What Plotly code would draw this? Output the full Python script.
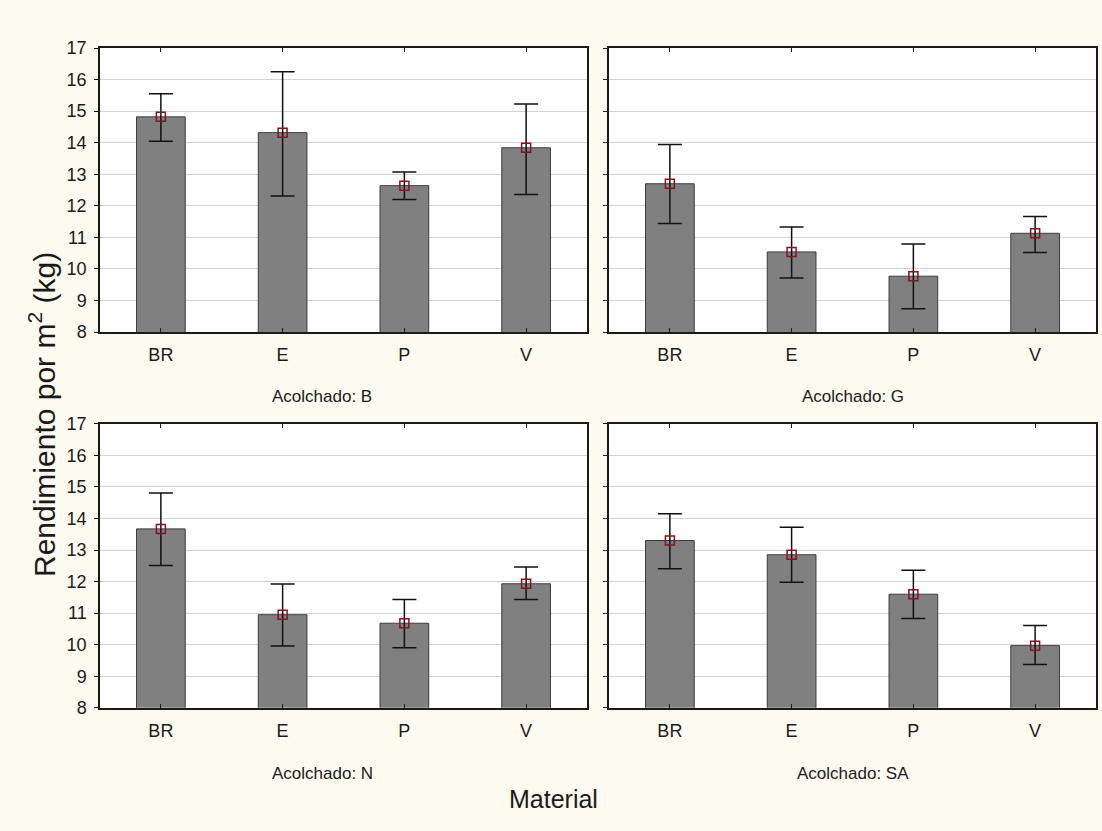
import plotly.graph_objects as go

W, H = 1102, 831

categories = ["BR", "E", "P", "V"]
panel_names = ["Acolchado: B", "Acolchado: G", "Acolchado: N", "Acolchado: SA"]

# means (bar heights / markers)
mean_B = [14.82, 14.32, 12.64, 13.84]
mean_G = [12.70, 10.54, 9.77, 11.13]
mean_N = [13.67, 10.95, 10.68, 11.93]
mean_SA = [13.30, 12.85, 11.60, 9.97]

# upper / lower confidence limits
upper_B = [15.55, 16.25, 13.07, 15.23]
lower_B = [14.05, 12.31, 12.20, 12.36]
upper_G = [13.94, 11.33, 10.79, 11.66]
lower_G = [11.44, 9.71, 8.74, 10.52]
upper_N = [14.81, 11.92, 11.43, 12.46]
lower_N = [12.51, 9.96, 9.90, 11.43]
upper_SA = [14.15, 13.72, 12.36, 10.61]
lower_SA = [12.41, 11.98, 10.83, 9.37]

y_ticks = [8, 9, 10, 11, 12, 13, 14, 15, 16, 17]

means = [mean_B, mean_G, mean_N, mean_SA]
uppers = [upper_B, upper_G, upper_N, upper_SA]
lowers = [lower_B, lower_G, lower_N, lower_SA]

BG = "#FDFAF0"
FONT = "Liberation Sans, Arial, sans-serif"
TXT = "#1a1a1a"

# panel pixel boxes (left, right, top, bottom)
boxes = [(100, 587, 39, 330), (609, 1096, 39, 330),
         (100, 587, 424, 715), (609, 1096, 424, 715)]

fig = go.Figure()
layout = dict(
    width=W, height=H,
    paper_bgcolor=BG, plot_bgcolor="white",
    margin=dict(l=0, r=0, t=0, b=0),
    showlegend=False,
    font=dict(family=FONT, size=18, color=TXT),
)

for i in range(4):
    xa = "x" if i == 0 else f"x{i+1}"
    ya = "y" if i == 0 else f"y{i+1}"
    m = means[i]
    up = [u - v for u, v in zip(uppers[i], m)]
    dn = [v - l for v, l in zip(m, lowers[i])]
    fig.add_trace(go.Bar(
        x=categories, y=m, xaxis=xa, yaxis=ya,
        marker=dict(color="#808080", line=dict(color="#3c3c3c", width=1)),
        width=0.4,
        error_y=dict(type="data", symmetric=False, array=up, arrayminus=dn,
                     color="#111111", thickness=1.5, width=12),
    ))
    fig.add_trace(go.Scatter(
        x=categories, y=m, xaxis=xa, yaxis=ya, mode="markers",
        marker=dict(symbol="square-open", size=9, color="#8B1020",
                    line=dict(width=1.5, color="#8B1020")),
    ))
    l, r, t, b = boxes[i]
    xkey = "xaxis" if i == 0 else f"xaxis{i+1}"
    ykey = "yaxis" if i == 0 else f"yaxis{i+1}"
    layout[xkey] = dict(
        domain=[l / W, r / W], anchor=ya,
        type="category", range=[-0.5, 3.5],
        showline=True, linecolor="#1a1a1a", linewidth=1.5, mirror="allticks",
        ticks="inside", ticklen=4, tickcolor="#1a1a1a",
        showgrid=False, ticklabelstandoff=6,
        tickfont=dict(size=18, color=TXT),
    )
    layout[ykey] = dict(
        domain=[1 - b / H, 1 - t / H], anchor=xa,
        range=[8, 17], tickvals=y_ticks,
        showline=True, linecolor="#1a1a1a", linewidth=1.5, mirror=True,
        ticks="outside", ticklen=4, tickcolor="#1a1a1a",
        showgrid=True, gridcolor="#D2D2D2", gridwidth=1,
        zeroline=False, showticklabels=(i % 2 == 0), ticklabelstandoff=4,
        tickfont=dict(size=18, color=TXT),
    )

annotations = []
label_pos = [(322, 396), (853, 396), (322, 782), (853, 782)]
for name, (px, py) in zip(panel_names, label_pos):
    annotations.append(dict(text=name, xref="paper", yref="paper",
                            x=px / W, y=1 - py / H, showarrow=False,
                            xanchor="center", yanchor="middle",
                            font=dict(size=17, color=TXT)))
annotations.append(dict(text="Material", xref="paper", yref="paper",
                        x=553 / W, y=1 - 808 / H, showarrow=False,
                        xanchor="center", yanchor="middle",
                        font=dict(size=25, color=TXT)))
annotations.append(dict(text="Rendimiento por m<sup>2</sup> (kg)", xref="paper", yref="paper",
                        x=42 / W, y=1 - 415 / H, showarrow=False, textangle=-90,
                        xanchor="center", yanchor="middle",
                        font=dict(size=30, color=TXT)))
layout["annotations"] = annotations

fig.update_layout(**layout)
fig.write_html("out.html", config={"displayModeBar": False},
               post_script="document.body.style.margin='0';")
